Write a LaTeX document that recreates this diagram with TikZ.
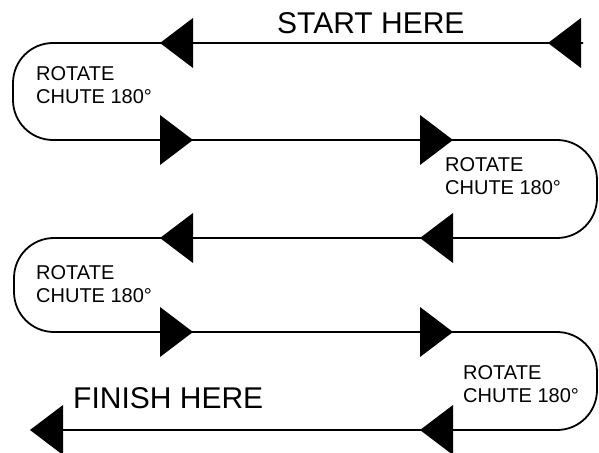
\documentclass[tikz,border=0pt]{standalone}
\usepackage{fontspec}
\setmainfont{Liberation Sans}
\usepackage{tikz}
\tikzstyle{chute} = [line width=1.8bp, draw=black, rounded corners=40bp]
\tikzstyle{bigtext} = [font=\fontsize{30bp}{34bp}\selectfont, inner sep=0pt, anchor=north west]
\tikzstyle{turntext} = [font=\fontsize{20bp}{23bp}\selectfont, align=left, inner sep=0pt, anchor=north west]
% filled heads, tip given
\newcommand{\headL}[2]{\fill (#1,#2) -- ++(33,-25) -- ++(0,50) -- cycle;}
\newcommand{\headR}[2]{\fill (#1,#2) -- ++(-33,-25) -- ++(0,50) -- cycle;}

\begin{document}
\begin{tikzpicture}[x=1bp, y=-1bp]
\useasboundingbox (0,0) rectangle (599,453);

% Turn points of the run
\coordinate (s) at (583,43);
\coordinate (l1) at (13,43);
\coordinate (l2) at (13,140);
\coordinate (r2) at (597,140);
\coordinate (r3) at (597,238);
\coordinate (l3) at (14,238);
\coordinate (l4) at (14,332);
\coordinate (r4) at (597,332);
\coordinate (r5) at (597,430);
\coordinate (f) at (31,430);

% Run
\draw [chute] (s) -- (l1) -- (l2) -- (r2) -- (r3) -- (l3) -- (l4) -- (r4) -- (r5) -- (f);

% Heads
\headL{548}{43}
\headL{160}{43}
\headR{193}{140}
\headR{453}{140}
\headL{420}{238}
\headL{160}{238}
\headR{193}{332}
\headR{453}{332}
\headL{420}{430}
\headL{30}{430}

% Labels
\node [bigtext] (start) at (277,12) {START HERE};
\node [bigtext] (finish) at (73,387) {FINISH HERE};
\node [turntext] (turn1) at (36,66) {ROTATE\\CHUTE 180°};
\node [turntext] (turn2) at (445,157) {ROTATE\\CHUTE 180°};
\node [turntext] (turn3) at (36,265) {ROTATE\\CHUTE 180°};
\node [turntext] (turn4) at (463,365) {ROTATE\\CHUTE 180°};

\end{tikzpicture}
\end{document}
